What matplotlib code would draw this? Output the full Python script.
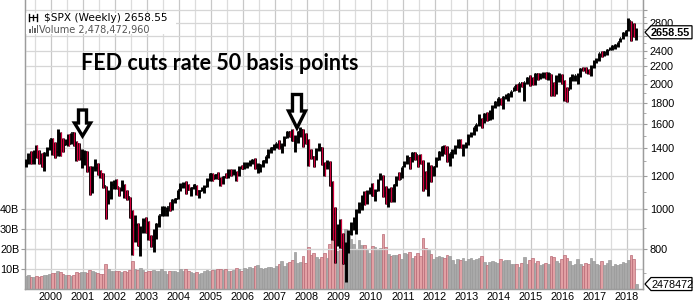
import numpy as np
import pandas as pd
import matplotlib
matplotlib.use("Agg")
import matplotlib.pyplot as plt
from matplotlib.patches import Polygon, Rectangle

# S&P 500, one bar per month, Mar 1999 .. Apr 2018
months = pd.period_range("1999-03", "2018-04", freq="M")

spx_high = [
    1316, 1362, 1376, 1384, 1421, 1381, 1361, 1373, 1410, 1474,  # 1999
    1478, 1445, 1553, 1527, 1481, 1474, 1517, 1525, 1530, 1455, 1437, 1389,  # 2000
    1383, 1376, 1268, 1269, 1316, 1287, 1239, 1221, 1134, 1111, 1163, 1174,  # 2001
    1176, 1131, 1173, 1147, 1107, 1070, 994, 965, 925, 907, 951, 954,  # 2002
    935, 864, 895, 924, 965, 1015, 1015, 1011, 1040, 1054, 1063, 1112,  # 2003
    1155, 1158, 1163, 1150, 1128, 1146, 1141, 1110, 1131, 1143, 1188, 1217,  # 2004
    1218, 1213, 1229, 1192, 1199, 1219, 1246, 1245, 1244, 1233, 1270, 1276,  # 2005
    1295, 1297, 1310, 1318, 1327, 1285, 1280, 1307, 1340, 1389, 1407, 1432,  # 2006
    1441, 1462, 1438, 1498, 1535, 1541, 1556, 1503, 1539, 1576, 1553, 1523,  # 2007
    1471, 1396, 1341, 1397, 1441, 1405, 1293, 1313, 1304, 1167, 1007, 919,  # 2008
    943, 876, 832, 888, 930, 957, 996, 1039, 1080, 1101, 1111, 1130,  # 2009
    1151, 1113, 1181, 1220, 1203, 1132, 1120, 1130, 1149, 1196, 1227, 1263,  # 2010
    1303, 1344, 1333, 1366, 1371, 1346, 1357, 1307, 1230, 1293, 1277, 1270,  # 2011
    1334, 1378, 1419, 1422, 1416, 1363, 1392, 1427, 1475, 1471, 1434, 1448,  # 2012
    1510, 1530, 1570, 1598, 1687, 1654, 1698, 1709, 1730, 1776, 1813, 1849,  # 2013
    1851, 1867, 1884, 1897, 1925, 1968, 1992, 2005, 2019, 2018, 2075, 2093,  # 2014
    2072, 2120, 2118, 2126, 2135, 2130, 2133, 2113, 2021, 2094, 2117, 2104,  # 2015
    2038, 1963, 2073, 2111, 2103, 2120, 2178, 2193, 2188, 2170, 2214, 2278,  # 2016
    2301, 2371, 2401, 2399, 2418, 2454, 2484, 2491, 2520, 2582, 2657, 2695,  # 2017
    2873, 2836, 2801, 2718,  # 2018
]
spx_low = [
    1261, 1282, 1281, 1281, 1324, 1281, 1263, 1233, 1342, 1387,  # 1999
    1350, 1325, 1339, 1339, 1373, 1420, 1417, 1431, 1419, 1306, 1311, 1255,  # 2000
    1274, 1229, 1081, 1092, 1232, 1204, 1183, 1124, 945, 1026, 1054, 1118,  # 2001
    1114, 1075, 1104, 1063, 1048, 952, 776, 833, 815, 769, 873, 872,  # 2002
    840, 807, 789, 847, 902, 963, 962, 960, 990, 995, 1031, 1053,  # 2003
    1105, 1124, 1087, 1107, 1076, 1113, 1079, 1060, 1102, 1090, 1127, 1163,  # 2004
    1163, 1180, 1176, 1137, 1146, 1188, 1184, 1201, 1206, 1168, 1202, 1246,  # 2005
    1245, 1253, 1269, 1280, 1246, 1220, 1224, 1262, 1291, 1327, 1360, 1385,  # 2006
    1403, 1389, 1364, 1416, 1476, 1484, 1454, 1371, 1439, 1489, 1407, 1435,  # 2007
    1270, 1317, 1257, 1312, 1374, 1272, 1200, 1248, 1133, 840, 741, 815,  # 2008
    805, 735, 667, 783, 866, 888, 869, 978, 992, 1020, 1029, 1086,  # 2009
    1072, 1045, 1106, 1171, 1066, 1029, 1011, 1040, 1040, 1132, 1173, 1186,  # 2010
    1257, 1283, 1249, 1295, 1312, 1259, 1283, 1101, 1114, 1075, 1158, 1202,  # 2011
    1259, 1311, 1340, 1358, 1292, 1267, 1325, 1355, 1397, 1403, 1343, 1399,  # 2012
    1426, 1485, 1501, 1536, 1581, 1560, 1605, 1627, 1633, 1646, 1747, 1768,  # 2013
    1773, 1738, 1834, 1815, 1860, 1916, 1930, 1905, 1965, 1821, 2001, 1973,  # 2014
    1988, 1981, 2040, 2048, 2068, 2056, 2044, 1867, 1872, 1893, 2019, 1993,  # 2015
    1812, 1810, 1937, 2033, 2025, 1992, 2074, 2148, 2119, 2114, 2084, 2187,  # 2016
    2245, 2267, 2322, 2329, 2345, 2405, 2407, 2417, 2447, 2520, 2557, 2605,  # 2017
    2683, 2533, 2586, 2554,  # 2018
]
spx_close = [
    1286, 1335, 1302, 1373, 1329, 1320, 1283, 1363, 1389, 1469,  # 1999
    1394, 1366, 1499, 1452, 1421, 1455, 1431, 1518, 1437, 1429, 1315, 1320,  # 2000
    1366, 1240, 1160, 1250, 1256, 1224, 1211, 1134, 1041, 1060, 1140, 1148,  # 2001
    1130, 1107, 1147, 1077, 1067, 990, 912, 916, 815, 886, 936, 880,  # 2002
    856, 841, 848, 917, 964, 975, 990, 1008, 996, 1051, 1058, 1112,  # 2003
    1131, 1145, 1126, 1107, 1121, 1141, 1102, 1104, 1115, 1130, 1174, 1212,  # 2004
    1181, 1204, 1181, 1157, 1192, 1191, 1234, 1220, 1229, 1207, 1250, 1248,  # 2005
    1280, 1281, 1295, 1311, 1270, 1270, 1277, 1304, 1336, 1378, 1401, 1418,  # 2006
    1438, 1407, 1421, 1482, 1531, 1503, 1455, 1474, 1527, 1549, 1481, 1468,  # 2007
    1379, 1331, 1323, 1386, 1400, 1280, 1267, 1283, 1166, 969, 896, 903,  # 2008
    826, 735, 798, 873, 919, 919, 988, 1021, 1057, 1036, 1096, 1115,  # 2009
    1074, 1105, 1169, 1187, 1089, 1031, 1102, 1049, 1141, 1183, 1181, 1258,  # 2010
    1286, 1327, 1326, 1364, 1345, 1321, 1292, 1219, 1131, 1253, 1247, 1258,  # 2011
    1312, 1366, 1409, 1398, 1310, 1362, 1379, 1407, 1441, 1412, 1416, 1426,  # 2012
    1498, 1515, 1569, 1598, 1631, 1606, 1686, 1633, 1682, 1757, 1806, 1848,  # 2013
    1783, 1860, 1872, 1884, 1924, 1960, 1931, 2003, 1972, 2018, 2068, 2059,  # 2014
    1995, 2105, 2068, 2086, 2107, 2063, 2104, 1972, 1920, 2079, 2080, 2044,  # 2015
    1940, 1932, 2060, 2065, 2097, 2099, 2174, 2171, 2168, 2126, 2199, 2239,  # 2016
    2279, 2364, 2363, 2384, 2412, 2423, 2470, 2472, 2519, 2575, 2648, 2674,  # 2017
    2824, 2714, 2641, 2658.55,  # 2018
]
# volume, billions of shares per week
volume_b = [
    6.5, 6.8, 6.2, 6.0, 6.3, 5.8, 6.4, 7.0, 7.2, 7.5,  # 1999
    8.0, 8.2, 8.8, 8.5, 7.5, 7.2, 6.8, 6.5, 7.2, 8.5, 8.0, 8.4,  # 2000
    8.6, 8.2, 9.5, 9.0, 8.4, 7.8, 7.6, 7.4, 12.5, 9.8, 9.0, 8.8,  # 2001
    9.2, 9.0, 8.6, 8.8, 8.7, 9.6, 13.8, 9.8, 9.4, 10.4, 9.6, 8.6,  # 2002
    9.0, 8.8, 9.6, 8.8, 8.9, 9.8, 8.9, 7.6, 9.0, 9.2, 8.8, 8.7,  # 2003
    10.0, 9.2, 10.0, 8.8, 8.5, 8.2, 8.6, 7.6, 8.0, 9.0, 9.4, 8.8,  # 2004
    9.4, 9.6, 10.0, 10.2, 9.6, 9.8, 9.2, 8.8, 9.6, 10.4, 9.8, 9.2,  # 2005
    10.6, 10.2, 11.2, 10.4, 11.6, 12.0, 10.6, 9.8, 10.6, 11.2, 11.0, 10.4,  # 2006
    11.4, 12.6, 13.8, 11.6, 12.8, 13.4, 14.6, 18.5, 12.8, 13.4, 16.4, 13.2,  # 2007
    21.0, 16.8, 18.2, 15.8, 15.2, 16.0, 18.2, 15.4, 22.5, 28.0, 24.0, 19.0,  # 2008
    22.0, 24.0, 30.0, 26.5, 25.0, 22.5, 20.0, 24.5, 22.0, 22.0, 19.5, 18.0,  # 2009
    21.5, 21.0, 19.5, 20.5, 27.5, 21.0, 17.5, 16.5, 17.0, 17.0, 17.5, 15.0,  # 2010
    18.0, 17.5, 18.5, 15.5, 16.5, 18.0, 16.5, 25.5, 20.5, 19.5, 17.5, 15.0,  # 2011
    16.0, 16.5, 16.0, 15.5, 17.0, 16.5, 14.5, 12.5, 15.0, 14.5, 15.5, 14.0,  # 2012
    15.0, 15.5, 14.5, 15.0, 15.5, 16.5, 13.5, 12.0, 13.5, 14.0, 13.5, 13.0,  # 2013
    15.0, 14.0, 14.5, 14.5, 12.5, 12.5, 12.5, 11.0, 13.0, 16.0, 12.5, 14.5,  # 2014
    15.5, 13.0, 14.0, 12.0, 12.5, 13.0, 12.5, 16.5, 16.0, 14.0, 13.0, 15.0,  # 2015
    17.0, 15.5, 14.0, 12.0, 12.5, 15.0, 12.5, 11.5, 13.0, 12.5, 15.5, 14.0,  # 2016
    12.5, 12.0, 14.0, 12.0, 13.0, 14.5, 11.5, 12.5, 12.0, 12.5, 13.5, 13.0,  # 2017
    14.5, 17.0, 15.0, 2.48,  # 2018
]

years = list(range(2000, 2019))
price_ticks = [800, 1000, 1200, 1400, 1600, 1800, 2000, 2200, 2400, 2600, 2800, 3000]
price_labels = [800, 1000, 1200, 1400, 1600, 1800, 2000, 2200, 2400, 2800]
volume_ticks = [10, 20, 30, 40]
last_close = 2658.55
last_volume = 2478472960
title_text = "$SPX (Weekly) 2658.55"
volume_text = "Volume 2,478,472,960"
note_text = "FED cuts rate 50 basis points"

RED = "#d2003c"
GRID = "#d6d6d6"
TICK_FONT = "Liberation Sans"

W, H = 693, 304
fig = plt.figure(figsize=(W / 100, H / 100), dpi=100)
fig.patch.set_facecolor("white")

# volume axes on the left, price axes (log) on the right
axv = fig.add_axes([25 / W, 15 / H, 618 / W, 289 / H])
axp = axv.twinx()

x = np.asarray(months.year + (months.month - 0.5) / 12.0, dtype=float)
high = np.array(spx_high, float)
low = np.array(spx_low, float)
close = np.array(spx_close, float)
opens = np.r_[close[0], close[:-1]]
up = close >= opens
vol = np.array(volume_b)

# --- volume
vcol = np.where(up, "#a9a9a9", "#e2a0a4")
vedge = np.where(up, "#9a9a9a", "#b86a76")
axv.bar(x, vol, width=1 / 12 * 0.95, color=vcol, edgecolor=vedge, linewidth=0.5, zorder=2)
axv.set_ylim(0, 144.5)
axv.set_yticks(volume_ticks)
axv.set_yticklabels([f"{v}B" for v in volume_ticks])
axv.set_xlim(1999.19, 2018.44)
axv.set_xticks(years)
axv.set_xticklabels([str(y) for y in years])
axv.set_xticks([y - 0.5 for y in years] + [2018.5], minor=True)
axv.grid(True, axis="x", which="major", color="#c8c8c8", lw=0.9, zorder=0)
axv.grid(True, axis="x", which="minor", color="#dcdcdc", lw=0.9, zorder=0)
axv.grid(True, axis="y", color=GRID, lw=0.9, zorder=0)
axv.set_axisbelow(True)

# --- price bars: black bars, with a thin red stroke on down months
axp.set_yscale("log")
axp.vlines(x, low, high, color="black", lw=2.1, zorder=3)
axp.hlines(close, x, x + 0.035, color="black", lw=1.1, zorder=3)
axp.hlines(opens, x - 0.035, x, color="black", lw=1.1, zorder=3)
dn = ~up
axp.vlines(x[dn] + 0.012, low[dn], high[dn], color=RED, lw=0.9, zorder=4)
axp.set_ylim(641, 3179)
axp.set_yticks(price_ticks)
axp.set_yticklabels([str(p) if p in price_labels else "" for p in price_ticks])
axp.set_yticks(list(range(700, 3100, 100)), minor=True)
axp.yaxis.set_minor_formatter(plt.NullFormatter())
axp.grid(True, axis="y", which="major", color=GRID, lw=0.9, zorder=0)
axp.set_xlim(axv.get_xlim())

for a in (axv, axp):
    for s in a.spines.values():
        s.set_color("#9c9c9c")
        s.set_linewidth(0.9)
    a.spines["top"].set_visible(False)
axv.tick_params(axis="y", length=3, pad=1, color="#9c9c9c", labelsize=7.8)
axv.tick_params(axis="x", which="both", length=0, pad=2, labelsize=7.8)
axp.tick_params(axis="y", which="major", length=3, pad=2, color="#9c9c9c", labelsize=7.8)
axp.tick_params(axis="y", which="minor", length=2, color="#9c9c9c")
for lab in axv.get_xticklabels() + axv.get_yticklabels() + axp.get_yticklabels():
    lab.set_fontfamily(TICK_FONT)

# --- overlay in pixel coordinates for legend, note and value flags
ov = fig.add_axes([0, 0, 1, 1], zorder=10)
ov.set_xlim(0, W)
ov.set_ylim(H, 0)
ov.axis("off")
ov.patch.set_visible(False)

ov.add_patch(Rectangle((26, 13), 150, 21, facecolor="white", edgecolor="none"))
# small OHLC icon and volume icon
for dx, y0, y1 in ((0, 14, 21), (4, 15, 20), (8, 14, 21)):
    ov.plot([29 + dx, 29 + dx], [y0, y1], color="black", lw=1.0)
ov.plot([29, 37], [17, 17], color="black", lw=0.8)
for dx, hh in ((0, 4), (2.5, 7), (5, 5), (7.5, 8)):
    ov.add_patch(Rectangle((29 + dx, 33 - hh), 1.8, hh, facecolor="#666666", edgecolor="none"))
ov.text(44, 18, title_text, fontsize=7.6, family="DejaVu Sans", va="center", ha="left")
ov.text(39, 29.5, volume_text, fontsize=7.0, family="DejaVu Sans", color="#555555",
        va="center", ha="left")

ov.text(219.5, 70, note_text, fontsize=15.5, family="Lato", fontweight="bold",
        ha="center", va="baseline")


def down_arrow(cx, top, neck, tip, shaft_w, head_w):
    pts = [(cx - shaft_w / 2, top), (cx + shaft_w / 2, top), (cx + shaft_w / 2, neck),
           (cx + head_w / 2, neck), (cx, tip), (cx - head_w / 2, neck),
           (cx - shaft_w / 2, neck)]
    ov.add_patch(Polygon(pts, closed=True, facecolor="white", edgecolor="black",
                         lw=2.4, joinstyle="miter"))


down_arrow(82.5, 110, 123, 136, 8, 16)
down_arrow(297, 94.5, 111, 128, 9, 17)


def value_flag(y, text, bold):
    pts = [(645, y), (651, y - 6.5), (692, y - 6.5), (692, y + 6.5), (651, y + 6.5)]
    ov.add_patch(Polygon(pts, closed=True, facecolor="white", edgecolor="black", lw=0.9))
    ov.text(651, y + 0.5, text, fontsize=7.8, family=TICK_FONT, va="center", ha="left",
            fontweight="bold" if bold else "normal")


fig.canvas.draw()
y_close = H - axp.transData.transform((x[-1], last_close))[1]
y_vol = H - axv.transData.transform((x[-1], last_volume / 1e9))[1]
value_flag(y_close, f"{last_close:.2f}", True)
value_flag(y_vol, str(last_volume // 1000), False)

fig.savefig("out.png", dpi=100)
